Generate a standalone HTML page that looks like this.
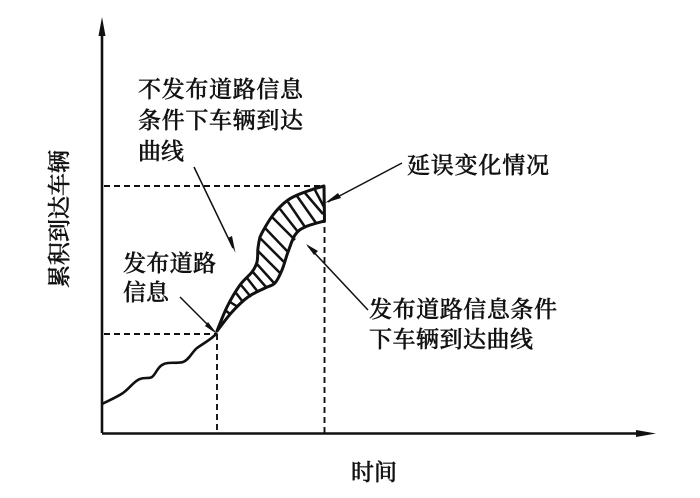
<!DOCTYPE html>
<html><head><meta charset="utf-8"><style>
html,body{margin:0;padding:0;background:#fff}
svg{display:block}
text{font-family:"Liberation Serif","Noto Serif CJK SC",serif;font-size:23px;fill:#111;stroke:#111;stroke-width:.45px;font-weight:500}
</style></head><body>
<svg width="700" height="498" viewBox="0 0 700 498" xmlns="http://www.w3.org/2000/svg">
<g fill="none" stroke="#111" stroke-width="1.900" stroke-dasharray="6 4">
<path d="M104 186H324"/>
<path d="M104 334H216"/>
<path d="M217 334V433"/>
<path d="M324.500 187V433"/>
</g>
<path d="M102 433V34M102 433.500H640" fill="none" stroke="#111" stroke-width="2.600"/>
<path d="M102 17L105.500 36H98.500Z" fill="#111"/>
<path d="M656 433.500L636 430V437Z" fill="#111"/>
<path d="M102 404C110 400 117 397 123 393C130 388 134 381 140 379C145 377 149 379 152 377C156 374 157 368 162 365C168 361 177 364 183 362C189 360 192 352 197 348C204 343 212 339 217 333" fill="none" stroke="#111" stroke-width="2.600"/>
<path d="M217 331C218.700 327 223.200 314.700 227 307C230.800 299.300 235.800 290.800 240 285C244.200 279.200 249.200 275.800 252 272C254.800 268.200 256 266 257 262C258 258 257.500 252.200 258 248C258.500 243.800 259 241 260 237C262.500 231.500 268.300 221.200 273 215C277.700 208.800 282.700 203.800 288 200C293.300 196.200 299 194.300 305 192C311 189.700 318 187.500 324 186L324.500 221C321 222 309.800 224.700 305 227C300.200 229.300 297.800 230.800 295 235C292.200 239.200 290.200 246.200 288 252C285.800 257.800 284.200 264.800 282 270C279.800 275.200 277.800 280 275 283C272.200 286 269.500 285.700 265 288C260.500 290.300 253.500 293 248 297C242.500 301 237.200 306.300 232 312C226.800 317.700 221 326 217 331Z" fill="none" stroke="#111" stroke-width="3" stroke-linejoin="round"/>
<g stroke="#111" stroke-width="2.500" fill="none">
<path d="M315 190L324 207"/>
<path d="M305 193L323 214"/>
<path d="M297 196L316 223"/>
<path d="M288 202L305 227"/>
<path d="M280 209L298 232"/>
<path d="M272 217L295 240"/>
<path d="M265 228L288 252"/>
<path d="M260 238L285 263"/>
<path d="M257 250L280 273"/>
<path d="M256 263L274 283"/>
<path d="M252 271L266 287"/>
<path d="M247 278L258 292"/>
<path d="M241 285L251 297"/>
<path d="M236 293L243 302"/>
<path d="M230 302L238 307"/>
<path d="M225 310L230 314"/>
</g>
<g stroke="#111" stroke-width="1.500" fill="none">
<path d="M194 167L233 248"/>
<path d="M180 297L214 331"/>
<path d="M402 163L328 202"/>
<path d="M368 310L308 246"/>
</g>
<g fill="#111">
<path d="M235.500 253L228 238L232 236Z"/>
<path d="M217 334L205 326L208 322Z"/>
<path d="M325 203L338 193L341 198Z"/>
<path d="M306 244L318 251L314 255Z"/>
</g>
<text x="138" y="97" textLength="165">不发布道路信息</text>
<text x="138" y="128" textLength="165">条件下车辆到达</text>
<text x="138" y="159" textLength="46">曲线</text>
<text x="123" y="271" textLength="93">发布道路</text>
<text x="123" y="300" textLength="46">信息</text>
<text x="407" y="173" textLength="142">延误变化情况</text>
<text x="369" y="317" textLength="188">发布道路信息条件</text>
<text x="369" y="347" textLength="164">下车辆到达曲线</text>
<text x="351" y="480" textLength="46">时间</text>
<text transform="translate(67,288) rotate(-90)" x="0" y="0" textLength="138">累积到达车辆</text>
</svg>
</body></html>
